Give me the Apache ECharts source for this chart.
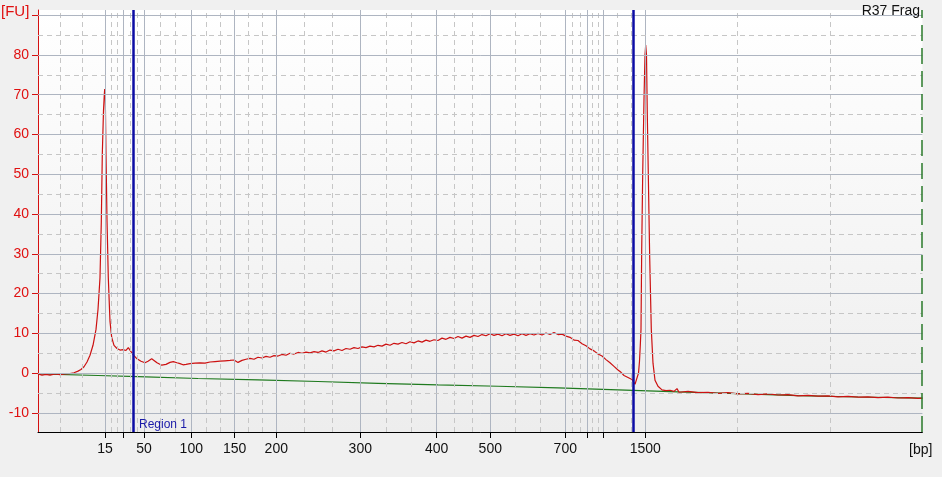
<!DOCTYPE html>
<html><head><meta charset="utf-8">
<script src="https://cdn.jsdelivr.net/npm/echarts@6/dist/echarts.min.js"></script>
<style>html,body{margin:0;padding:0;background:#f0f0f0;} #c{width:942px;height:477px;}</style>
</head><body><div id="c"></div>
<script>
// Ladder (bp) and migration times (s)
const ladderSizes = [15, 25, 50, 100, 150, 200, 300, 400, 500, 700, 850, 1000, 1500];
const ladderTimes = [42.7, 44.57, 46.6, 51.33, 55.67, 59.83, 68.23, 75.87, 81.23, 88.73, 90.93, 92.53, 96.72];
const shownLabels = [15, 50, 100, 150, 200, 300, 400, 500, 700, 1500];
const yTicks = [-10, 0, 10, 20, 30, 40, 50, 60, 70, 80, 90];
const yLabels = [-10, 0, 10, 20, 30, 40, 50, 60, 70, 80];
const regionTimes = [45.57, 95.57];
const xMin = 36, xMax = 124.44, yMin = -14.8, yMax = 91.3;

// Sample trace [FU]
const traceTime = [36.0,36.4,36.8,37.2,37.7,38.2,38.7,39.2,39.6,40.0,40.3,40.6,40.9,41.2,41.5,41.8,42.0,42.2,42.33,42.43,42.55,42.63,42.67,42.73,42.8,42.9,43.03,43.2,43.37,43.6,43.9,44.2,44.5,44.8,45.03,45.3,45.6,45.9,46.3,46.7,47.0,47.37,47.6,47.9,48.37,48.8,49.2,49.53,49.9,50.2,50.5,50.8,51.2,51.7,52.2,52.7,53.2,53.7,54.2,54.7,55.2,55.6,56.0,56.4,56.8,57.2,57.6,58.0,58.4,58.8,59.2,59.6,60.0,60.4,60.8,61.2,61.6,62.0,62.4,62.8,63.2,63.6,64.0,64.4,64.8,65.2,65.6,66.0,66.4,66.8,67.2,67.6,68.0,68.4,68.8,69.2,69.6,70.0,70.4,70.8,71.2,71.6,72.0,72.4,72.8,73.2,73.6,74.0,74.4,74.8,75.2,75.6,76.0,76.4,76.8,77.2,77.6,78.0,78.4,78.8,79.2,79.6,80.0,80.4,80.8,81.2,81.6,82.0,82.4,82.8,83.2,83.6,84.0,84.4,84.8,85.2,85.6,86.0,86.4,86.8,87.2,87.6,88.0,88.4,88.8,89.2,89.6,90.0,90.4,90.8,91.2,91.6,92.0,92.4,92.8,93.2,93.6,94.0,94.3,94.6,95.0,95.4,95.7,95.9,96.05,96.15,96.23,96.3,96.37,96.47,96.6,96.7,96.77,96.85,96.93,97.03,97.17,97.33,97.5,97.7,98.0,98.4,98.8,99.2,99.6,99.9,100.1,101,102,103,104,105,106,107,108,109,110,111,112,113,114,115,116,117,118,119,120,121,122,123,124,124.44];
const traceFU = [-0.2,-0.5,-0.3,-0.5,-0.2,-0.4,-0.2,-0.1,0.1,0.5,0.9,1.6,2.8,4.5,7.0,11.0,16,24,38,55,66,70,71.4,69,55,38.5,24,13,9,7,6.2,5.8,5.9,5.7,6.4,5.4,4.4,3.6,3.0,2.6,3.0,3.6,3.2,2.6,2.0,2.2,2.7,2.9,2.6,2.4,2.1,2.2,2.4,2.5,2.6,2.5,2.8,2.9,3.0,3.1,3.2,3.3,2.7,3.2,3.5,3.7,3.5,4.0,3.8,4.2,4.0,4.4,4.3,4.7,4.5,5.0,4.8,5.2,5.0,5.3,5.1,5.4,5.2,5.6,5.3,5.8,5.6,6.0,5.7,6.2,6.0,6.4,6.2,6.6,6.4,6.8,6.6,7.0,6.8,7.3,7.0,7.5,7.3,7.7,7.4,7.9,7.6,8.1,7.8,8.3,8.0,8.4,8.2,8.8,8.5,9.0,8.7,9.2,8.8,9.3,9.0,9.5,9.2,9.7,9.4,9.9,9.5,9.8,9.4,9.9,9.5,9.8,9.4,9.9,9.5,9.9,9.6,10.0,9.6,10.1,9.7,10.2,9.7,9.8,9.3,9.0,8.3,8.2,7.4,6.9,6.1,5.6,4.8,4.3,3.4,2.6,1.7,0.8,0.2,-0.6,-1.1,-1.6,-2.8,-2.4,0,3,7,11,31,50,69,80,82.5,80,65,50,29,11,2.5,-1.8,-3.3,-4.2,-4.4,-4.3,-4.6,-3.9,-4.8,-4.6,-4.9,-4.8,-5.1,-4.9,-5.2,-5.1,-5.4,-5.2,-5.5,-5.4,-5.7,-5.6,-5.8,-5.7,-5.95,-5.85,-6.05,-5.95,-6.15,-6.05,-6.25,-6.15,-6.35,-6.3];

// Baseline [FU]
const baseTime = [36, 42, 46, 52, 58, 64, 70, 76, 82, 88, 94, 100, 106, 112, 118, 124.44];
const baseFU = [-0.2, -0.6, -0.9, -1.35, -1.7, -2.1, -2.55, -2.95, -3.3, -3.7, -4.2, -4.7, -5.15, -5.65, -6.0, -6.3];

const FONT = 'Liberation Sans, Arial, sans-serif';
const zip = (a, b) => a.map((v, i) => [v, b[i]]);

const solidGrid = { color: '#aeb5c1', width: 1, type: 'solid' };
const dashGrid = { color: '#c6c6c6', width: 1, type: [5, 4] };

// vertical grid lines: solid at ladder peaks, dashed at thirds between
const vLines = [];
ladderTimes.forEach(t => vLines.push({ xAxis: t, lineStyle: solidGrid }));
const bounds = [xMin].concat(ladderTimes, [xMax]);
for (let i = 0; i < bounds.length - 1; i++) {
  const a = bounds[i], b = bounds[i + 1];
  vLines.push({ xAxis: a + (b - a) / 3, lineStyle: dashGrid });
  vLines.push({ xAxis: a + 2 * (b - a) / 3, lineStyle: dashGrid });
}
// horizontal grid lines
const hLines = [];
yTicks.forEach(v => {
  hLines.push({ yAxis: v, lineStyle: solidGrid });
  if (v + 5 < yMax) hLines.push({ yAxis: v + 5, lineStyle: dashGrid });
});

const chart = echarts.init(document.getElementById('c'), null, { renderer: 'canvas' });
chart.setOption({
  animation: false,
  backgroundColor: '#f0f0f0',
  title: [
    { text: '[FU]', left: 1, top: 4, padding: 0, textStyle: { color: '#e01010', fontSize: 15, fontWeight: 'normal', fontFamily: FONT } },
    { text: 'R37 Frag', right: 22, top: 4, padding: 0, textStyle: { color: '#111', fontSize: 14, fontWeight: 'normal', fontFamily: FONT } },
    { text: '[bp]', left: 909, top: 443, padding: 0, textStyle: { color: '#111', fontSize: 14, fontWeight: 'normal', fontFamily: FONT } },
    { text: 'Region 1', left: 139, top: 419, padding: 0, textStyle: { color: '#1a1aa8', fontSize: 12, fontWeight: 'normal', fontFamily: FONT } }
  ],
  grid: {
    left: 38, right: 19.6, top: 10, bottom: 45, show: true, borderWidth: 0,
    backgroundColor: new echarts.graphic.LinearGradient(0, 0, 0, 1, [
      { offset: 0, color: '#ffffff' }, { offset: 1, color: '#ededed' }])
  },
  xAxis: {
    type: 'value', min: xMin, max: xMax,
    splitLine: { show: false },
    axisLine: { show: true, onZero: false, lineStyle: { color: '#000', width: 1 } },
    axisTick: { show: true, length: 6, customValues: ladderTimes, lineStyle: { color: '#000' } },
    axisLabel: {
      customValues: ladderTimes.filter((t, i) => shownLabels.indexOf(ladderSizes[i]) >= 0),
      margin: 10, color: '#111', fontSize: 14, fontFamily: FONT,
      formatter: v => {
        let best = 0;
        ladderTimes.forEach((t, i) => { if (Math.abs(t - v) < Math.abs(ladderTimes[best] - v)) best = i; });
        return String(ladderSizes[best]);
      }
    }
  },
  yAxis: {
    type: 'value', min: yMin, max: yMax,
    splitLine: { show: false },
    axisLine: { show: true, onZero: false, lineStyle: { color: '#d41010', width: 1 } },
    axisTick: { show: true, length: 6, customValues: yTicks, lineStyle: { color: '#d41010' } },
    axisLabel: { customValues: yLabels, margin: 9, color: '#e01010', fontSize: 14, fontFamily: FONT }
  },
  series: [
    {
      type: 'line', name: 'grid', data: [], z: 1, silent: true,
      markLine: {
        silent: true, symbol: ['none', 'none'], label: { show: false }, animation: false,
        data: vLines.concat(hLines)
      }
    },
    {
      type: 'line', name: 'markers', data: [], z: 4, silent: true,
      markLine: {
        silent: true, symbol: ['none', 'none'], label: { show: false }, animation: false,
        data: [
          { xAxis: regionTimes[0], lineStyle: { color: '#0c0ca4', width: 2.5, type: 'solid' } },
          { xAxis: regionTimes[1], lineStyle: { color: '#0c0ca4', width: 2.5, type: 'solid' } },
          { xAxis: xMax - 0.05, lineStyle: { color: '#2a7a2a', width: 1.5, type: [16, 7] } }
        ]
      }
    },
    {
      type: 'line', name: 'baseline', data: zip(baseTime, baseFU), z: 2,
      showSymbol: false, lineStyle: { color: '#1f7a1f', width: 1.2 }
    },
    {
      type: 'line', name: 'sample', data: zip(traceTime, traceFU), z: 3,
      showSymbol: false, lineStyle: { color: '#cc1111', width: 1.2 }
    }
  ]
});
</script></body></html>
